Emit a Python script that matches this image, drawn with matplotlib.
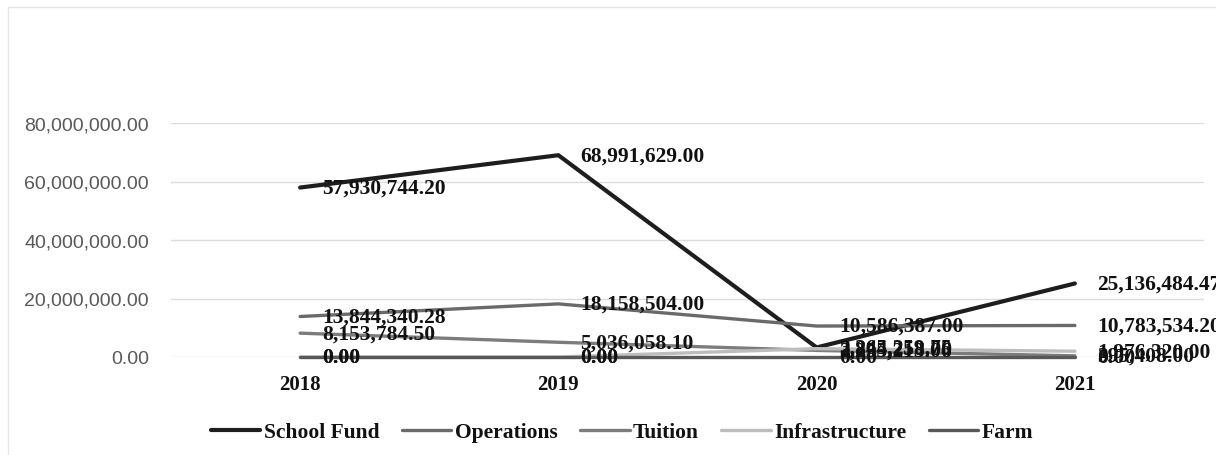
import matplotlib
matplotlib.use("Agg")
import matplotlib.pyplot as plt
from matplotlib.patches import Rectangle

years = ["2018", "2019", "2020", "2021"]
school_fund = [57930744.20, 68991629.00, 3265259.75, 25136484.47]
operations = [13844340.28, 18158504.00, 10586387.00, 10783534.20]
tuition = [8153784.50, 5036058.10, 2255213.06, 395408.00]
infrastructure = [0.00, 0.00, 2844258.00, 1976320.00]
farm = [0.00, 0.00, 0.00, 0.00]
y_ticks = [0, 20000000, 40000000, 60000000, 80000000]

series = [
    ("School Fund", school_fund, "#1e1e1e", 3.0),
    ("Operations", operations, "#6a6a6a", 2.4),
    ("Tuition", tuition, "#7c7c7c", 2.4),
    ("Infrastructure", infrastructure, "#bdbdbd", 2.4),
    ("Farm", farm, "#585858", 2.4),
]

fig = plt.figure(figsize=(12.16, 4.56), dpi=100)
ax = fig.add_axes([171 / 1216, (456 - 358) / 456, (1204 - 171) / 1216, (358 - 124) / 456])

x = list(range(len(years)))
for name, vals, col, lw in series:
    ax.plot(x, vals, color=col, lw=lw, label=name, clip_on=False, solid_capstyle="round", zorder=3)

serif = "Liberation Serif"
for name, vals, col, lw in series:
    for xi, v in zip(x, vals):
        ax.annotate(f"{v:,.2f}", (xi, v), xytext=(16, 0), textcoords="offset points",
                    ha="left", va="center", fontsize=15.5, fontweight="bold",
                    family=serif, color="#111111", zorder=5, annotation_clip=False)

ax.set_xlim(-0.5, 3.5)
ax.set_ylim(0, 80000000)
ax.set_yticks(y_ticks)
ax.set_yticklabels([f"{v:,.2f}" for v in y_ticks], family="Liberation Sans", fontsize=14, color="#595959")
ax.set_xticks(x)
ax.set_xticklabels(years, family=serif, fontweight="bold", fontsize=15, color="#111111")
ax.tick_params(axis="y", length=0, pad=16)
ax.tick_params(axis="x", length=0, pad=12)
ax.grid(axis="y", color="#dcdcdc", lw=1)
ax.set_axisbelow(True)
for s in ax.spines.values():
    s.set_visible(False)

leg = fig.legend(loc="center", bbox_to_anchor=(622 / 1216, (456 - 433) / 456), ncol=5, frameon=False,
                 prop={"family": serif, "weight": "bold", "size": 15.5},
                 handlelength=2.3, handletextpad=0.15, columnspacing=1.05)
for t in leg.get_texts():
    t.set_color("#111111")

fig.patches.append(Rectangle((8 / 1216, -0.1), 1.2, (456 - 8) / 456 + 0.1, transform=fig.transFigure,
                             fill=False, edgecolor="#e6e6e6", lw=1))

fig.savefig("out.png", dpi=100)
